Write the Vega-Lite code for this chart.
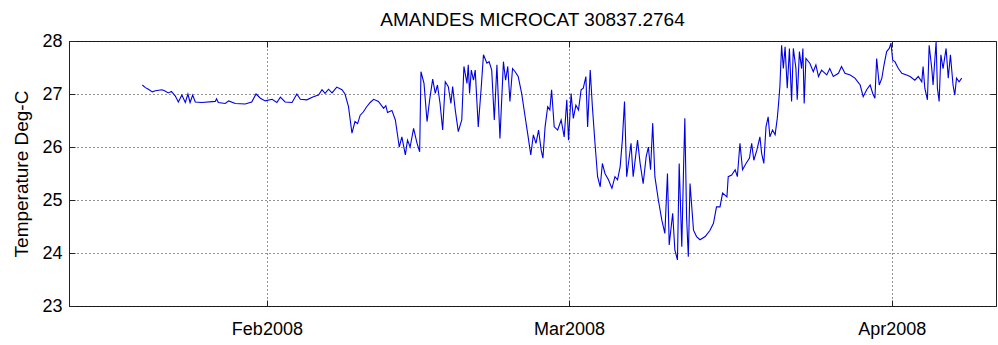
{
  "$schema": "https://vega.github.io/schema/vega-lite/v6.json",
  "width": 927,
  "height": 265,
  "autosize": {"type": "none"},
  "padding": {"left": 69, "top": 41, "right": 2, "bottom": 39},
  "background": "white",
  "title": {
    "text": "AMANDES MICROCAT 30837.2764",
    "fontSize": 19,
    "fontWeight": "normal",
    "font": "Liberation Sans",
    "color": "black",
    "anchor": "middle",
    "offset": 2
  },
  "data": {
    "values": [
      {"t": "2008-01-20T01:00", "temp": 27.17},
      {"t": "2008-01-20T08:00", "temp": 27.12},
      {"t": "2008-01-20T15:00", "temp": 27.09},
      {"t": "2008-01-21T00:00", "temp": 27.04},
      {"t": "2008-01-21T07:00", "temp": 27.06},
      {"t": "2008-01-21T22:00", "temp": 27.08},
      {"t": "2008-01-22T04:00", "temp": 27.06},
      {"t": "2008-01-22T13:00", "temp": 27.02},
      {"t": "2008-01-22T20:00", "temp": 27.05},
      {"t": "2008-01-23T05:00", "temp": 26.96},
      {"t": "2008-01-23T12:00", "temp": 26.85},
      {"t": "2008-01-23T20:00", "temp": 26.98},
      {"t": "2008-01-24T04:00", "temp": 26.84},
      {"t": "2008-01-24T10:00", "temp": 27.0},
      {"t": "2008-01-24T15:00", "temp": 26.84},
      {"t": "2008-01-24T21:00", "temp": 26.98},
      {"t": "2008-01-25T03:00", "temp": 26.85},
      {"t": "2008-01-25T18:00", "temp": 26.84},
      {"t": "2008-01-27T01:00", "temp": 26.86},
      {"t": "2008-01-27T04:00", "temp": 26.91},
      {"t": "2008-01-27T08:00", "temp": 26.84},
      {"t": "2008-01-28T00:00", "temp": 26.82},
      {"t": "2008-01-28T08:00", "temp": 26.87},
      {"t": "2008-01-28T23:00", "temp": 26.82},
      {"t": "2008-01-29T22:00", "temp": 26.81},
      {"t": "2008-01-30T13:00", "temp": 26.85},
      {"t": "2008-01-30T23:00", "temp": 27.0},
      {"t": "2008-01-31T09:00", "temp": 26.92},
      {"t": "2008-01-31T20:00", "temp": 26.87},
      {"t": "2008-02-01T12:00", "temp": 26.9},
      {"t": "2008-02-01T23:00", "temp": 26.84},
      {"t": "2008-02-02T07:00", "temp": 26.94},
      {"t": "2008-02-02T18:00", "temp": 26.85},
      {"t": "2008-02-03T10:00", "temp": 26.84},
      {"t": "2008-02-03T21:00", "temp": 27.0},
      {"t": "2008-02-04T05:00", "temp": 26.9},
      {"t": "2008-02-04T20:00", "temp": 26.89},
      {"t": "2008-02-05T11:00", "temp": 26.95},
      {"t": "2008-02-05T23:00", "temp": 26.98},
      {"t": "2008-02-06T07:00", "temp": 27.08},
      {"t": "2008-02-06T14:00", "temp": 27.01},
      {"t": "2008-02-06T22:00", "temp": 27.09},
      {"t": "2008-02-07T06:00", "temp": 27.02},
      {"t": "2008-02-07T17:00", "temp": 27.13},
      {"t": "2008-02-08T05:00", "temp": 27.08},
      {"t": "2008-02-08T12:00", "temp": 27.0},
      {"t": "2008-02-08T20:00", "temp": 26.76},
      {"t": "2008-02-09T04:00", "temp": 26.26},
      {"t": "2008-02-09T11:00", "temp": 26.48},
      {"t": "2008-02-09T17:00", "temp": 26.44},
      {"t": "2008-02-09T23:00", "temp": 26.6},
      {"t": "2008-02-10T06:00", "temp": 26.66},
      {"t": "2008-02-10T14:00", "temp": 26.76},
      {"t": "2008-02-10T22:00", "temp": 26.84},
      {"t": "2008-02-11T06:00", "temp": 26.9},
      {"t": "2008-02-11T17:00", "temp": 26.86},
      {"t": "2008-02-12T05:00", "temp": 26.73},
      {"t": "2008-02-12T10:00", "temp": 26.78},
      {"t": "2008-02-12T14:00", "temp": 26.65},
      {"t": "2008-02-13T00:00", "temp": 26.69},
      {"t": "2008-02-13T08:00", "temp": 26.51},
      {"t": "2008-02-13T17:00", "temp": 26.0},
      {"t": "2008-02-13T23:00", "temp": 26.19},
      {"t": "2008-02-14T07:00", "temp": 25.85},
      {"t": "2008-02-14T12:00", "temp": 26.13},
      {"t": "2008-02-14T18:00", "temp": 26.0},
      {"t": "2008-02-15T02:00", "temp": 26.35},
      {"t": "2008-02-15T10:00", "temp": 26.07},
      {"t": "2008-02-15T16:00", "temp": 25.91},
      {"t": "2008-02-15T19:00", "temp": 27.42},
      {"t": "2008-02-16T02:00", "temp": 27.2},
      {"t": "2008-02-16T09:00", "temp": 26.48},
      {"t": "2008-02-16T15:00", "temp": 26.89},
      {"t": "2008-02-16T22:00", "temp": 27.28},
      {"t": "2008-02-17T04:00", "temp": 27.01},
      {"t": "2008-02-17T09:00", "temp": 27.17},
      {"t": "2008-02-17T15:00", "temp": 26.82},
      {"t": "2008-02-17T21:00", "temp": 26.32},
      {"t": "2008-02-18T03:00", "temp": 27.23},
      {"t": "2008-02-18T10:00", "temp": 27.14},
      {"t": "2008-02-18T16:00", "temp": 26.82},
      {"t": "2008-02-18T20:00", "temp": 27.14},
      {"t": "2008-02-19T02:00", "temp": 26.7},
      {"t": "2008-02-19T09:00", "temp": 26.29},
      {"t": "2008-02-19T17:00", "temp": 26.51},
      {"t": "2008-02-19T22:00", "temp": 27.52},
      {"t": "2008-02-20T05:00", "temp": 27.2},
      {"t": "2008-02-20T08:00", "temp": 27.55},
      {"t": "2008-02-20T11:00", "temp": 27.01},
      {"t": "2008-02-20T15:00", "temp": 27.45},
      {"t": "2008-02-20T20:00", "temp": 27.26},
      {"t": "2008-02-21T00:00", "temp": 27.45},
      {"t": "2008-02-21T07:00", "temp": 26.38},
      {"t": "2008-02-21T14:00", "temp": 27.14},
      {"t": "2008-02-21T19:00", "temp": 27.74},
      {"t": "2008-02-22T03:00", "temp": 27.58},
      {"t": "2008-02-22T08:00", "temp": 27.61},
      {"t": "2008-02-22T14:00", "temp": 27.45},
      {"t": "2008-02-22T20:00", "temp": 26.51},
      {"t": "2008-02-23T02:00", "temp": 27.55},
      {"t": "2008-02-23T09:00", "temp": 26.16},
      {"t": "2008-02-23T17:00", "temp": 27.61},
      {"t": "2008-02-23T22:00", "temp": 27.26},
      {"t": "2008-02-24T03:00", "temp": 27.52},
      {"t": "2008-02-24T08:00", "temp": 26.86},
      {"t": "2008-02-24T14:00", "temp": 27.48},
      {"t": "2008-02-24T20:00", "temp": 27.42},
      {"t": "2008-02-25T03:00", "temp": 27.33},
      {"t": "2008-02-25T11:00", "temp": 27.01},
      {"t": "2008-02-25T19:00", "temp": 26.57},
      {"t": "2008-02-26T02:00", "temp": 26.19},
      {"t": "2008-02-26T08:00", "temp": 25.85},
      {"t": "2008-02-26T14:00", "temp": 26.23},
      {"t": "2008-02-26T20:00", "temp": 26.07},
      {"t": "2008-02-27T02:00", "temp": 26.32},
      {"t": "2008-02-27T08:00", "temp": 25.94},
      {"t": "2008-02-27T12:00", "temp": 25.79},
      {"t": "2008-02-27T17:00", "temp": 26.38},
      {"t": "2008-02-27T23:00", "temp": 26.76},
      {"t": "2008-02-28T04:00", "temp": 26.7},
      {"t": "2008-02-28T08:00", "temp": 27.08},
      {"t": "2008-02-28T14:00", "temp": 26.38},
      {"t": "2008-02-28T22:00", "temp": 26.32},
      {"t": "2008-02-29T06:00", "temp": 26.51},
      {"t": "2008-02-29T13:00", "temp": 26.19},
      {"t": "2008-02-29T19:00", "temp": 26.89},
      {"t": "2008-02-29T23:00", "temp": 26.13},
      {"t": "2008-03-01T05:00", "temp": 27.01},
      {"t": "2008-03-01T10:00", "temp": 26.54},
      {"t": "2008-03-01T16:00", "temp": 26.79},
      {"t": "2008-03-01T22:00", "temp": 26.7},
      {"t": "2008-03-02T04:00", "temp": 27.08},
      {"t": "2008-03-02T09:00", "temp": 27.11},
      {"t": "2008-03-02T15:00", "temp": 27.33},
      {"t": "2008-03-02T19:00", "temp": 26.38},
      {"t": "2008-03-03T01:00", "temp": 27.45},
      {"t": "2008-03-03T06:00", "temp": 26.76},
      {"t": "2008-03-03T12:00", "temp": 26.07},
      {"t": "2008-03-03T18:00", "temp": 25.44},
      {"t": "2008-03-04T00:00", "temp": 25.25},
      {"t": "2008-03-04T05:00", "temp": 25.69},
      {"t": "2008-03-04T11:00", "temp": 25.5},
      {"t": "2008-03-04T19:00", "temp": 25.38},
      {"t": "2008-03-05T03:00", "temp": 25.22},
      {"t": "2008-03-05T10:00", "temp": 25.44},
      {"t": "2008-03-05T16:00", "temp": 25.38},
      {"t": "2008-03-05T22:00", "temp": 25.63},
      {"t": "2008-03-06T03:00", "temp": 26.13},
      {"t": "2008-03-06T08:00", "temp": 26.86},
      {"t": "2008-03-06T13:00", "temp": 25.44},
      {"t": "2008-03-06T18:00", "temp": 25.75},
      {"t": "2008-03-06T23:00", "temp": 26.07},
      {"t": "2008-03-07T04:00", "temp": 25.44},
      {"t": "2008-03-07T14:00", "temp": 26.13},
      {"t": "2008-03-07T20:00", "temp": 25.69},
      {"t": "2008-03-08T03:00", "temp": 25.31},
      {"t": "2008-03-08T10:00", "temp": 25.82},
      {"t": "2008-03-08T15:00", "temp": 26.0},
      {"t": "2008-03-08T20:00", "temp": 25.57},
      {"t": "2008-03-09T01:00", "temp": 26.45},
      {"t": "2008-03-09T06:00", "temp": 25.44},
      {"t": "2008-03-09T14:00", "temp": 25.0},
      {"t": "2008-03-09T22:00", "temp": 24.62},
      {"t": "2008-03-10T05:00", "temp": 24.37},
      {"t": "2008-03-10T11:00", "temp": 25.5},
      {"t": "2008-03-10T15:00", "temp": 24.15},
      {"t": "2008-03-10T23:00", "temp": 24.75},
      {"t": "2008-03-11T04:00", "temp": 24.06},
      {"t": "2008-03-11T10:00", "temp": 23.87},
      {"t": "2008-03-11T14:00", "temp": 25.69},
      {"t": "2008-03-11T20:00", "temp": 24.12},
      {"t": "2008-03-12T00:00", "temp": 25.57},
      {"t": "2008-03-12T03:00", "temp": 26.54},
      {"t": "2008-03-12T07:00", "temp": 24.69},
      {"t": "2008-03-12T11:00", "temp": 23.93},
      {"t": "2008-03-12T15:00", "temp": 25.31},
      {"t": "2008-03-12T23:00", "temp": 24.43},
      {"t": "2008-03-13T06:00", "temp": 24.31},
      {"t": "2008-03-13T14:00", "temp": 24.25},
      {"t": "2008-03-14T02:00", "temp": 24.31},
      {"t": "2008-03-14T13:00", "temp": 24.43},
      {"t": "2008-03-14T21:00", "temp": 24.56},
      {"t": "2008-03-15T04:00", "temp": 24.87},
      {"t": "2008-03-15T12:00", "temp": 24.87},
      {"t": "2008-03-15T18:00", "temp": 25.13},
      {"t": "2008-03-16T04:00", "temp": 25.06},
      {"t": "2008-03-16T07:00", "temp": 25.44},
      {"t": "2008-03-16T15:00", "temp": 25.47},
      {"t": "2008-03-16T23:00", "temp": 25.57},
      {"t": "2008-03-17T04:00", "temp": 25.44},
      {"t": "2008-03-17T10:00", "temp": 26.07},
      {"t": "2008-03-17T16:00", "temp": 25.57},
      {"t": "2008-03-18T00:00", "temp": 25.69},
      {"t": "2008-03-18T08:00", "temp": 25.79},
      {"t": "2008-03-18T13:00", "temp": 26.07},
      {"t": "2008-03-18T18:00", "temp": 25.75},
      {"t": "2008-03-19T01:00", "temp": 25.94},
      {"t": "2008-03-19T08:00", "temp": 26.19},
      {"t": "2008-03-19T12:00", "temp": 25.88},
      {"t": "2008-03-19T17:00", "temp": 25.69},
      {"t": "2008-03-19T22:00", "temp": 26.38},
      {"t": "2008-03-20T03:00", "temp": 26.57},
      {"t": "2008-03-20T07:00", "temp": 26.19},
      {"t": "2008-03-20T13:00", "temp": 26.32},
      {"t": "2008-03-20T19:00", "temp": 26.23},
      {"t": "2008-03-21T00:00", "temp": 26.54},
      {"t": "2008-03-21T03:00", "temp": 26.82},
      {"t": "2008-03-21T06:00", "temp": 27.14},
      {"t": "2008-03-21T10:00", "temp": 27.92},
      {"t": "2008-03-21T14:00", "temp": 27.48},
      {"t": "2008-03-21T18:00", "temp": 27.89},
      {"t": "2008-03-21T23:00", "temp": 27.11},
      {"t": "2008-03-22T04:00", "temp": 27.86},
      {"t": "2008-03-22T09:00", "temp": 26.86},
      {"t": "2008-03-22T13:00", "temp": 27.86},
      {"t": "2008-03-22T19:00", "temp": 27.48},
      {"t": "2008-03-22T22:00", "temp": 26.89},
      {"t": "2008-03-23T03:00", "temp": 27.8},
      {"t": "2008-03-23T08:00", "temp": 27.48},
      {"t": "2008-03-23T11:00", "temp": 27.86},
      {"t": "2008-03-23T14:00", "temp": 26.82},
      {"t": "2008-03-23T18:00", "temp": 27.67},
      {"t": "2008-03-24T03:00", "temp": 27.58},
      {"t": "2008-03-24T11:00", "temp": 27.42},
      {"t": "2008-03-24T17:00", "temp": 27.55},
      {"t": "2008-03-24T23:00", "temp": 27.33},
      {"t": "2008-03-25T06:00", "temp": 27.45},
      {"t": "2008-03-25T18:00", "temp": 27.36},
      {"t": "2008-03-26T01:00", "temp": 27.48},
      {"t": "2008-03-26T09:00", "temp": 27.33},
      {"t": "2008-03-26T21:00", "temp": 27.39},
      {"t": "2008-03-27T04:00", "temp": 27.52},
      {"t": "2008-03-27T12:00", "temp": 27.39},
      {"t": "2008-03-28T00:00", "temp": 27.36},
      {"t": "2008-03-28T11:00", "temp": 27.3},
      {"t": "2008-03-28T23:00", "temp": 27.17},
      {"t": "2008-03-29T06:00", "temp": 26.95},
      {"t": "2008-03-29T14:00", "temp": 27.08},
      {"t": "2008-03-29T22:00", "temp": 27.17},
      {"t": "2008-03-30T04:00", "temp": 27.01},
      {"t": "2008-03-30T09:00", "temp": 26.92},
      {"t": "2008-03-30T13:00", "temp": 27.67},
      {"t": "2008-03-30T19:00", "temp": 27.17},
      {"t": "2008-03-31T01:00", "temp": 27.3},
      {"t": "2008-03-31T06:00", "temp": 27.55},
      {"t": "2008-03-31T12:00", "temp": 27.8},
      {"t": "2008-03-31T18:00", "temp": 27.86},
      {"t": "2008-03-31T22:00", "temp": 27.96},
      {"t": "2008-04-01T02:00", "temp": 27.64},
      {"t": "2008-04-01T07:00", "temp": 27.61},
      {"t": "2008-04-01T15:00", "temp": 27.48},
      {"t": "2008-04-01T23:00", "temp": 27.39},
      {"t": "2008-04-02T10:00", "temp": 27.36},
      {"t": "2008-04-02T18:00", "temp": 27.33},
      {"t": "2008-04-03T05:00", "temp": 27.26},
      {"t": "2008-04-03T13:00", "temp": 27.33},
      {"t": "2008-04-03T21:00", "temp": 27.23},
      {"t": "2008-04-04T00:00", "temp": 27.52},
      {"t": "2008-04-04T04:00", "temp": 27.11},
      {"t": "2008-04-04T10:00", "temp": 26.89},
      {"t": "2008-04-04T14:00", "temp": 27.92},
      {"t": "2008-04-04T20:00", "temp": 27.48},
      {"t": "2008-04-04T23:00", "temp": 27.17},
      {"t": "2008-04-05T06:00", "temp": 27.99},
      {"t": "2008-04-05T09:00", "temp": 27.11},
      {"t": "2008-04-05T13:00", "temp": 26.86},
      {"t": "2008-04-05T17:00", "temp": 27.74},
      {"t": "2008-04-05T22:00", "temp": 27.48},
      {"t": "2008-04-06T05:00", "temp": 27.86},
      {"t": "2008-04-06T10:00", "temp": 27.3},
      {"t": "2008-04-06T15:00", "temp": 27.74},
      {"t": "2008-04-06T21:00", "temp": 27.17},
      {"t": "2008-04-07T01:00", "temp": 26.98},
      {"t": "2008-04-07T05:00", "temp": 27.3},
      {"t": "2008-04-07T11:00", "temp": 27.23},
      {"t": "2008-04-07T17:00", "temp": 27.3}
    ]
  },
  "layer": [
    {
      "mark": {"type": "line", "color": "#0000e6", "strokeWidth": 1.1, "clip": true},
      "encoding": {
        "x": {
          "field": "t",
          "type": "temporal",
          "scale": {
            "domain": [
              {"year": 2008, "month": "jan", "date": 13},
              {"year": 2008, "month": "apr", "date": 11}
            ]
          },
          "axis": {
            "orient": "bottom",
            "title": null,
            "values": [
              {"year": 2008, "month": "feb", "date": 1},
              {"year": 2008, "month": "mar", "date": 1},
              {"year": 2008, "month": "apr", "date": 1}
            ],
            "format": "%b%Y",
            "labelPadding": 20,
            "grid": true
          }
        },
        "y": {
          "field": "temp",
          "type": "quantitative",
          "scale": {"domain": [23, 28], "nice": false, "zero": false},
          "axis": {
            "orient": "left",
            "title": "Temperature Deg-C",
            "values": [23, 24, 25, 26, 27, 28],
            "labelPadding": 13,
            "labelFlush": false,
            "titlePadding": 10,
            "grid": true
          }
        }
      }
    },
    {
      "mark": {"type": "line", "opacity": 0},
      "encoding": {
        "x": {
          "field": "t",
          "type": "temporal",
          "axis": {
            "orient": "top",
            "title": null,
            "labels": false,
            "grid": false,
            "values": [
              {"year": 2008, "month": "feb", "date": 1},
              {"year": 2008, "month": "mar", "date": 1},
              {"year": 2008, "month": "apr", "date": 1}
            ]
          }
        },
        "y": {
          "field": "temp",
          "type": "quantitative",
          "axis": {
            "orient": "right",
            "title": null,
            "labels": false,
            "grid": false,
            "values": [23, 24, 25, 26, 27, 28]
          }
        }
      }
    }
  ],
  "resolve": {"axis": {"x": "independent", "y": "independent"}},
  "config": {
    "font": "Liberation Sans",
    "view": {"stroke": "#222222", "strokeWidth": 1},
    "axis": {
      "domain": false,
      "ticks": true,
      "tickSize": -6,
      "tickColor": "#222222",
      "tickWidth": 1,
      "labelFont": "Liberation Sans",
      "labelFontSize": 18,
      "labelColor": "black",
      "titleFont": "Liberation Sans",
      "titleFontSize": 19,
      "titleFontWeight": "normal",
      "titleColor": "black",
      "gridColor": "black",
      "gridDash": [1, 3],
      "gridOpacity": 0.85,
      "gridWidth": 1
    }
  }
}
